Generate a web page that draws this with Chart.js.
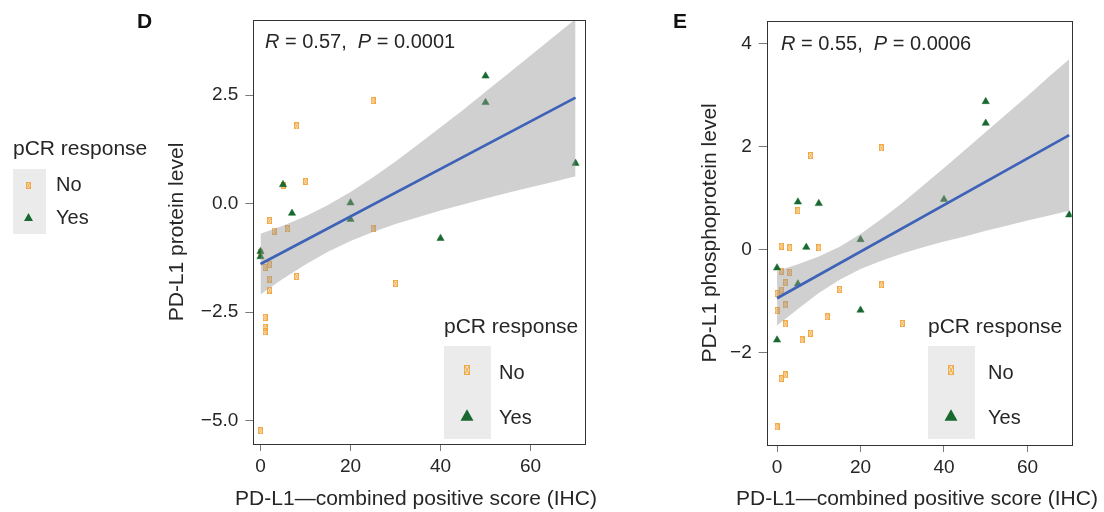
<!DOCTYPE html>
<html><head><meta charset="utf-8">
<script src="https://cdn.jsdelivr.net/npm/chart.js@4.4.1/dist/chart.umd.min.js"></script>
<style>
html,body{margin:0;padding:0;background:#fff;width:1104px;height:512px;overflow:hidden}
#cd{position:absolute;left:0;top:0}
#ce{position:absolute;left:600px;top:0}
</style></head><body>
<canvas id="cd"></canvas>
<canvas id="ce"></canvas>
<script>
// ---------- data ----------
const xTicks = [0, 20, 40, 60];
const xTickLabels = ['0', '20', '40', '60'];
const dYTicks = [2.5, 0, -2.5, -5];
const dYTickLabels = ['2.5', '0.0', '\u22122.5', '\u22125.0'];
const eYTicks = [4, 2, 0, -2];
const eYTickLabels = ['4', '2', '0', '\u22122'];

const dNoX = [25, 8, 5, 10, 2, 3, 6, 25, 1, 2, 2, 2, 8, 30, 1, 1, 1, 0, 0];
const dNoY = [2.37, 1.79, 0.42, 0.51, -0.39, -0.63, -0.58, -0.58, -1.47, -1.40, -1.74, -1.99, -1.68, -1.84, -2.62, -2.85, -2.95, -5.23, -1.12];
const dYesX = [50, 50, 5, 7, 20, 20, 40, 0, 0, 70];
const dYesY = [2.94, 2.33, 0.44, -0.22, 0.02, -0.36, -0.80, -1.10, -1.22, 0.93];

const eNoX = [8, 25, 5, 1, 3, 10, 1, 3, 2, 1, 0, 25, 15, 2, 0, 12, 2, 30, 8, 6, 2, 1, 0];
const eNoY = [1.83, 1.98, 0.76, 0.07, 0.04, 0.04, -0.42, -0.44, -0.64, -0.78, -0.85, -0.68, -0.77, -1.07, -1.18, -1.30, -1.44, -1.43, -1.62, -1.75, -2.43, -2.50, -3.44];
const eYesX = [50, 50, 5, 10, 7, 20, 40, 70, 0, 5, 20, 0];
const eYesY = [2.88, 2.46, 0.93, 0.90, 0.05, 0.20, 0.98, 0.68, -0.35, -0.66, -1.17, -1.75];

const fitX = [0, 70];
const dFitY = [-1.39, 2.44];
const eFitY = [-0.94, 2.23];

const bandX = [0, 5, 10, 15, 20, 25, 30, 35, 40, 45, 50, 55, 60, 65, 70];
const dBandLo = [-2.09, -1.73, -1.40, -1.11, -0.86, -0.65, -0.47, -0.31, -0.16, -0.02, 0.12, 0.25, 0.38, 0.50, 0.63];
const dBandHi = [-0.69, -0.51, -0.29, -0.03, 0.27, 0.61, 0.97, 1.36, 1.76, 2.16, 2.58, 2.99, 3.41, 3.83, 4.25];
const eBandLo = [-1.47, -1.15, -0.84, -0.58, -0.37, -0.21, -0.07, 0.05, 0.16, 0.26, 0.37, 0.47, 0.57, 0.66, 0.76];
const eBandHi = [-0.41, -0.28, -0.13, 0.06, 0.31, 0.60, 0.91, 1.25, 1.59, 1.94, 2.29, 2.64, 2.99, 3.35, 3.70];

const xTitle = 'PD-L1\u2014combined positive score (IHC)';

// ---------- styling ----------
const F = '"Liberation Sans", Arial, Helvetica, sans-serif';
const GREEN = '#17692f';
const TXT = '#262626';

function noGlyph(w, h) {
  const c = document.createElement('canvas'); c.width = w; c.height = h;
  const g = c.getContext('2d');
  g.fillStyle = 'rgba(250,215,150,0.45)'; g.fillRect(0, 0, w, h);
  g.strokeStyle = 'rgba(240,160,50,0.85)'; g.lineWidth = 1;
  g.strokeRect(0.5, 0.5, w - 1, h - 1);
  g.beginPath(); g.moveTo(0.5, 0.5); g.lineTo(w - 0.5, h - 0.5);
  g.moveTo(w - 0.5, 0.5); g.lineTo(0.5, h - 0.5); g.stroke();
  return c;
}
const noPoint = noGlyph(5, 7);

function tri(ctx, cx, cy, w) {
  const h = w * 0.866;
  ctx.fillStyle = GREEN;
  ctx.beginPath();
  ctx.moveTo(cx, cy - h / 2);
  ctx.lineTo(cx + w / 2, cy + h / 2);
  ctx.lineTo(cx - w / 2, cy + h / 2);
  ctx.closePath(); ctx.fill();
}

function drawKey(ctx, k) {
  ctx.save();
  ctx.textAlign = 'left'; ctx.textBaseline = 'alphabetic';
  ctx.fillStyle = TXT; ctx.font = '21px ' + F;
  ctx.fillText('pCR response', k.x, k.titleY);
  ctx.fillStyle = '#ebebeb';
  ctx.fillRect(k.x, k.boxTop, k.boxW, k.boxH);
  const img = noGlyph(k.sqW, k.sqH);
  ctx.drawImage(img, Math.round(k.symX - k.sqW / 2), Math.round(k.noY - k.sqH / 2));
  tri(ctx, k.symX, k.yesY, k.triW);
  ctx.fillStyle = TXT; ctx.font = '20px ' + F;
  ctx.fillText('No', k.textX, k.noBase);
  ctx.fillText('Yes', k.textX, k.yesBase);
  ctx.restore();
}

function drawStat(ctx, x, y, r, p) {
  ctx.save();
  ctx.fillStyle = TXT; ctx.textBaseline = 'alphabetic'; ctx.textAlign = 'left';
  const parts = [['R', true], [' = ' + r + ',  ', false], ['P', true], [' = ' + p, false]];
  let cx = x;
  for (const [t, it] of parts) {
    ctx.font = (it ? 'italic ' : '') + '20px ' + F;
    ctx.fillText(t, cx, y);
    cx += ctx.measureText(t).width;
  }
  ctx.restore();
}

function pts(xs, ys) { return xs.map((x, i) => ({ x: x, y: ys[i] })); }

function build(id, W, H, area, o) {
  const cv = document.getElementById(id);
  cv.width = W; cv.height = H;
  const deco = {
    id: 'deco' + id,
    afterDatasetsDraw(chart) {
      const ctx = chart.ctx, a = chart.chartArea;
      ctx.save();
      ctx.strokeStyle = '#333'; ctx.lineWidth = 1;
      ctx.strokeRect(Math.round(a.left) + 0.5, Math.round(a.top) + 0.5,
        Math.round(a.right - a.left), Math.round(a.bottom - a.top));
      ctx.restore();
    },
    afterDraw(chart) {
      const ctx = chart.ctx;
      ctx.save();
      ctx.fillStyle = '#111'; ctx.font = 'bold 21px ' + F;
      ctx.textBaseline = 'alphabetic'; ctx.textAlign = 'left';
      ctx.fillText(o.letter, o.letterX, 28);
      ctx.fillStyle = TXT; ctx.font = '21px ' + F; ctx.textAlign = 'center';
      ctx.fillText(xTitle, o.xTitleX, 505);
      ctx.restore();
      drawStat(ctx, o.statX, o.statY, o.r, o.p);
      o.keys.forEach(k => drawKey(ctx, k));
    }
  };
  const tickFont = { family: F, size: 19 };
  return new Chart(cv, {
    type: 'scatter',
    data: {
      datasets: [
        { label: 'fit', data: pts(fitX, o.fitY), showLine: true, borderColor: '#3d62b8',
          borderWidth: 2.6, pointRadius: 0, fill: false, order: 0 },
        { label: 'bandHi', data: pts(bandX, o.hi), showLine: true, borderWidth: 0,
          borderColor: 'rgba(0,0,0,0)', pointRadius: 0, fill: false, order: 1 },
        { label: 'bandLo', data: pts(bandX, o.lo), showLine: true, borderWidth: 0,
          borderColor: 'rgba(0,0,0,0)', pointRadius: 0, order: 1,
          fill: { target: 1 }, backgroundColor: 'rgba(150,150,150,0.45)' },
        { label: 'Yes', data: pts(o.yesX, o.yesY), pointStyle: 'triangle', pointRadius: 4.2,
          backgroundColor: GREEN, borderColor: GREEN, borderWidth: 0.5, order: 2 },
        { label: 'No', data: pts(o.noX, o.noY), pointStyle: noPoint, pointRadius: 4, order: 3 }
      ]
    },
    options: {
      responsive: false, animation: false, devicePixelRatio: 1,
      events: [],
      layout: { padding: { left: 0, right: W - area.right, top: area.top, bottom: 0 } },
      plugins: { legend: { display: false }, tooltip: { enabled: false } },
      scales: {
        x: {
          type: 'linear', min: o.xmin, max: o.xmax,
          afterFit: s => { s.height = H - area.bottom; },
          afterBuildTicks: s => { s.ticks = xTicks.map(v => ({ value: v })); },
          ticks: { callback: (v, i) => xTickLabels[i], autoSkip: false, maxRotation: 0,
            padding: 4, color: TXT, font: tickFont },
          grid: { drawOnChartArea: false, tickLength: 7, color: '#7a7a7a' },
          border: { display: false },
          title: { display: false }
        },
        y: {
          type: 'linear', min: o.ymin, max: o.ymax,
          afterFit: s => { s.width = area.left; },
          afterBuildTicks: s => { s.ticks = o.yTicks.map(v => ({ value: v })); },
          ticks: { callback: (v, i) => o.yTickLabels[i], autoSkip: false,
            padding: 7, color: TXT, font: tickFont },
          grid: { drawOnChartArea: false, tickLength: 8, color: '#7a7a7a' },
          border: { display: false },
          title: { display: true, text: o.yTitle, color: TXT, font: { family: F, size: 21 },
            padding: { top: o.yTitleX - 12.6, bottom: 0 } }
        }
      }
    },
    plugins: [deco]
  });
}

build('cd', 600, 512, { left: 253.3, right: 585, top: 20, bottom: 444 }, {
  xmin: -1.6, xmax: 72.1, ymin: -5.535, ymax: 4.23,
  yTicks: dYTicks, yTickLabels: dYTickLabels, yTitle: 'PD-L1 protein level', yTitleX: 177,
  noX: dNoX, noY: dNoY, yesX: dYesX, yesY: dYesY, fitY: dFitY, lo: dBandLo, hi: dBandHi,
  letter: 'D', letterX: 137, statX: 265, statY: 48.3, r: '0.57', p: '0.0001', xTitleX: 416,
  keys: [
    { x: 13, titleY: 155, boxTop: 169, boxW: 33, boxH: 65, symX: 28.5, noY: 185, yesY: 217,
      sqW: 5, sqH: 7, triW: 9, textX: 56, noBase: 190.7, yesBase: 224 },
    { x: 444, titleY: 333, boxTop: 346, boxW: 47, boxH: 93, symX: 467, noY: 370, yesY: 415,
      sqW: 6, sqH: 10, triW: 13, textX: 499, noBase: 379, yesBase: 424 }
  ]
});

build('ce', 504, 512, { left: 166.7, right: 471.7, top: 20.7, bottom: 445 }, {
  xmin: -2.48, xmax: 70.6, ymin: -3.79, ymax: 4.45,
  yTicks: eYTicks, yTickLabels: eYTickLabels, yTitle: 'PD-L1 phosphoprotein level', yTitleX: 110,
  noX: eNoX, noY: eNoY, yesX: eYesX, yesY: eYesY, fitY: eFitY, lo: eBandLo, hi: eBandHi,
  letter: 'E', letterX: 73, statX: 181, statY: 50, r: '0.55', p: '0.0006', xTitleX: 317,
  keys: [
    { x: 328, titleY: 333, boxTop: 346, boxW: 47, boxH: 93, symX: 351, noY: 370, yesY: 415,
      sqW: 6, sqH: 10, triW: 13, textX: 388, noBase: 379, yesBase: 424 }
  ]
});
</script>
</body></html>
